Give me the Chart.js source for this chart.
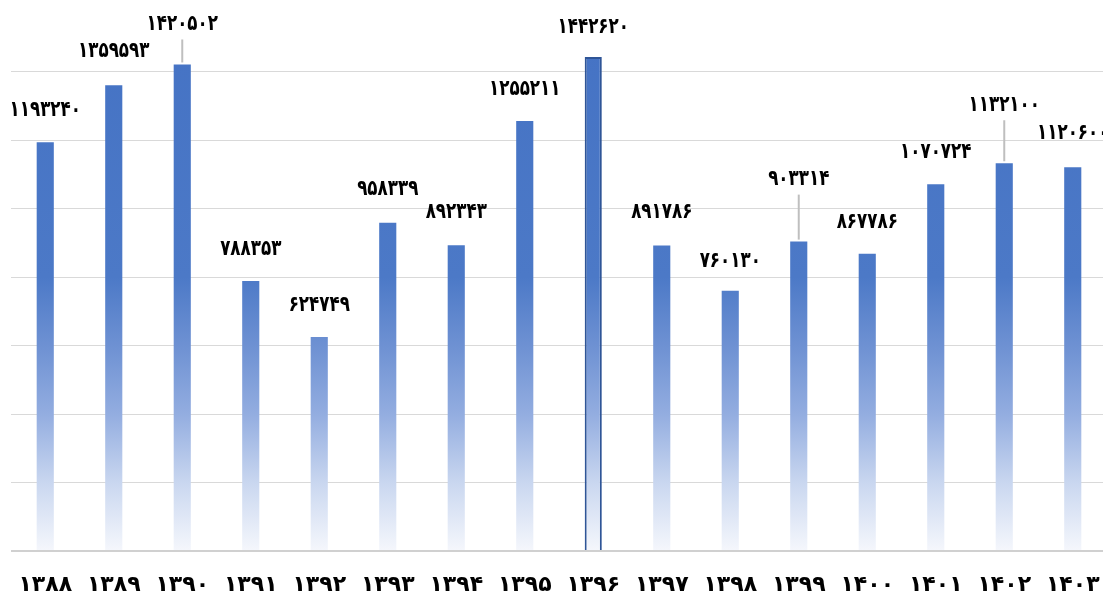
<!DOCTYPE html>
<html>
<head>
<meta charset="utf-8">
<script src="https://cdn.jsdelivr.net/npm/chart.js@4"></script>
<style>
    html, body { margin: 0; padding: 0; background: #fff; overflow: hidden; width: 1103px; height: 599px; }
    #chart { display: block; width: 1110px !important; height: 599px !important; max-width: none !important; }
</style>
</head>
<body>
<canvas id="chart" width="1110" height="599"></canvas>
<script>
// Data
const years = ['۱۳۸۸', '۱۳۸۹', '۱۳۹۰', '۱۳۹۱', '۱۳۹۲', '۱۳۹۳', '۱۳۹۴', '۱۳۹۵',
    '۱۳۹۶', '۱۳۹۷', '۱۳۹۸', '۱۳۹۹', '۱۴۰۰', '۱۴۰۱', '۱۴۰۲', '۱۴۰۳'];
const values = [1193240, 1359593, 1420502, 788353, 624749, 958339, 892343, 1255211,
    1442620, 891786, 760130, 903314, 867786, 1070724, 1132100, 1120600];
const yTicks = [0, 200000, 400000, 600000, 800000, 1000000, 1200000, 1400000, 1600000];

// label lift above bar top (px); bigger ones get a leader line
const labelLift = [32, 34, 40, 32, 32, 33, 33, 32, 30, 33, 29, 62, 32, 32, 58, 34];
const highlighted = 8;

const toFa = n => String(n).replace(/\d/g, d => '۰۱۲۳۴۵۶۷۸۹'[d]);

function barGradient(ctx) {
    const area = ctx.chart.chartArea;
    if (!area) return '#4472C4';
    const g = ctx.chart.ctx.createLinearGradient(0, area.bottom, 0, area.top);
    g.addColorStop(0, '#f5f7fc');
    g.addColorStop(0.12, '#cbd8f0');
    g.addColorStop(0.25, '#93ade0');
    g.addColorStop(0.37, '#6f92d3');
    g.addColorStop(0.5, '#4c79c7');
    g.addColorStop(1, '#4472C4');
    return g;
}

// Value labels with leader lines
const valueLabels = {
    id: 'valueLabels',
    afterDatasetsDraw(chart) {
        const ctx = chart.ctx;
        const meta = chart.getDatasetMeta(0);
        meta.data.forEach((bar, i) => {
            const lift = labelLift[i];
            const ly = bar.y - lift;
            ctx.save();
            if (lift > 38) {
                ctx.strokeStyle = '#bfbfbf';
                ctx.lineWidth = 2;
                ctx.beginPath();
                ctx.moveTo(bar.x, ly + 15);
                ctx.lineTo(bar.x, bar.y - 2);
                ctx.stroke();
            }
            ctx.font = 'bold 22px "DejaVu Sans"';
            ctx.textAlign = 'center';
            ctx.textBaseline = 'middle';
            ctx.fillStyle = '#000';
            ctx.translate(bar.x, ly);
            ctx.scale(0.76, 1);
            ctx.fillText(toFa(values[i]), 0, 0);
            ctx.restore();
        });
    }
};

new Chart(document.getElementById('chart'), {
    type: 'bar',
    data: {
        labels: years,
        datasets: [{
            data: values,
            backgroundColor: barGradient,
            borderColor: ctx => ctx.dataIndex === highlighted ? '#2f5597' : 'rgba(0,0,0,0)',
            borderWidth: ctx => ctx.dataIndex === highlighted ? 2 : 0,
            categoryPercentage: 1,
            barPercentage: 0.25,
            clip: false
        }]
    },
    options: {
        responsive: false,
        animation: false,
        layout: { padding: { left: 9, right: 3, top: 3, bottom: 4 } },
        plugins: {
            legend: { display: false },
            tooltip: { enabled: false }
        },
        scales: {
            x: {
                grid: { display: false, drawTicks: true, tickLength: 21 },
                border: { display: false },
                afterFit: axis => {
                    axis.height = 44;
                    axis.paddingLeft = 0;
                    axis.paddingRight = 0;
                },
                ticks: {
                    color: '#000',
                    padding: 0,
                    maxRotation: 0,
                    font: { family: '"DejaVu Sans"', size: 22, weight: 'bold' }
                }
            },
            y: {
                display: true,
                min: 0,
                max: 1600000,
                afterFit: axis => { axis.width = 2; },
                afterBuildTicks: axis => { axis.ticks = yTicks.map(v => ({ value: v })); },
                grid: {
                    color: c => c.tick.value === 1600000 ? 'rgba(0,0,0,0)' : (c.tick.value === 0 ? '#d0d0d0' : '#d9d9d9'),
                    lineWidth: c => c.tick.value === 0 ? 2 : 1,
                    drawTicks: false
                },
                border: { display: false },
                ticks: { display: false }
            }
        }
    },
    plugins: [valueLabels]
});
</script>
</body>
</html>
